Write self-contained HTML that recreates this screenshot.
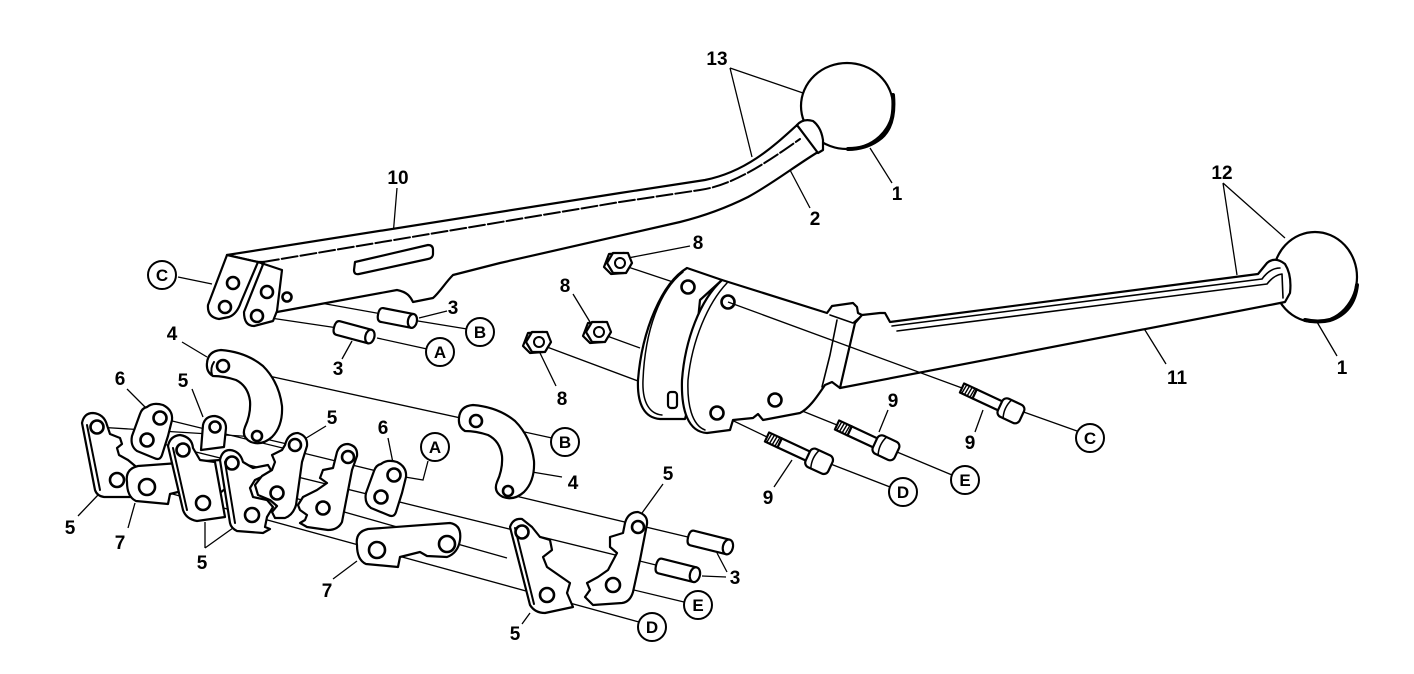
<!DOCTYPE html>
<html><head><meta charset="utf-8"><style>
html,body{margin:0;padding:0;background:#fff;}
svg{display:block;}
.o{fill:#fff;stroke:#000;stroke-width:2.2;stroke-linejoin:round;stroke-linecap:round;}
.n{fill:none;stroke:#000;stroke-width:2;stroke-linejoin:round;stroke-linecap:round;}
.f{fill:#fff;stroke:none;}
.t{fill:none;stroke:#000;stroke-width:1.3;}
.h{fill:#fff;stroke:#000;stroke-width:2.6;}
.lb{font-family:"Liberation Sans",Arial,sans-serif;font-weight:bold;font-size:19px;fill:#000;text-anchor:middle;}
.lc{font-family:"Liberation Sans",Arial,sans-serif;font-weight:bold;font-size:17px;fill:#000;text-anchor:middle;}
.c{fill:#fff;stroke:#000;stroke-width:2;}
</style></head><body>
<svg width="1414" height="674" viewBox="0 0 1414 674" xmlns="http://www.w3.org/2000/svg">
<rect width="1414" height="674" fill="#fff"/>

<!-- construction / leader lines -->
<g class="t">
<path d="M178,277 L212,284"/>
<path d="M287,297 L382,314"/>
<path d="M418,321 L467,329"/>
<path d="M257,316 L338,328"/>
<path d="M377,338 L427,349"/>
<path d="M447,311 L419,318"/>
<path d="M352,341 L342,359"/>
<path d="M397,188 L392,248"/>
<path d="M182,342 L207,357"/>
<path d="M730,68 L803,93 M730,68 L752,157"/>
<path d="M870,148 L892,183"/>
<path d="M790,170 L810,208"/>
<path d="M628,258 L690,246"/>
<path d="M573,294 L590,322"/>
<path d="M540,353 L556,386"/>
<path d="M628,267 L688,287"/>
<path d="M607,336 L640,348"/>
<path d="M547,347 L638,381"/>
<path d="M717,413 L767,437"/>
<path d="M775,400 L837,425"/>
<path d="M983,410 L975,432"/>
<path d="M1018,410 L1077,431"/>
<path d="M888,410 L879,432"/>
<path d="M897,452 L952,475"/>
<path d="M792,460 L774,487"/>
<path d="M828,463 L890,487"/>
<path d="M1140,322 L1166,364"/>
<path d="M1317,322 L1337,356"/>
<path d="M1223,183 L1285,238 M1223,183 L1237,275"/>
<!-- lower cluster -->
<path d="M223,366 L552,438"/>
<path d="M97,427 L257,437 L300,447"/>
<path d="M160,418 L393,475 L423,480 L428,461"/>
<path d="M147,440 L660,566"/>
<path d="M147,487 L639,622"/>
<path d="M277,493 L507,558"/>
<path d="M503,493 L692,538"/>
<path d="M613,585 L684,602"/>
<path d="M717,553 L727,572 M702,576 L726,577"/>
<path d="M663,484 L642,513"/>
<path d="M530,613 L522,624"/>
<path d="M333,579 L357,561"/>
<path d="M388,438 L393,463"/>
<path d="M326,426 L303,440"/>
<path d="M127,389 L145,407"/>
<path d="M192,389 L203,417"/>
<path d="M78,516 L98,495"/>
<path d="M128,528 L135,503"/>
<path d="M205,548 L205,522 M205,548 L233,528"/>
<path d="M532,472 L562,477"/>
</g>

<!-- ===== Upper lever (10) ===== -->
<ellipse class="o" cx="847" cy="106" rx="46" ry="43"/>
<path class="n" d="M893,95 Q896,128 878,140 Q865,149 848,149" style="stroke-width:4"/>
<path class="o" d="M227,255 L620,193 L705,180 C745,172 772,148 797,125 L818,152 C795,166 772,184 748,197 C722,210 700,217 680,222 L500,263 L453,275 C445,283 440,292 433,298 L413,302 C410,296 407,292 397,290 L277,312 L262,263 Z"/>
<path class="n" d="M263,262 L620,202 L700,190 C735,185 770,160 800,139" style="stroke-dasharray:16 3;"/>
<path class="o" d="M797,125 Q803,118 813,121 Q821,127 823,140 L823,150 L818,153 Z"/>
<path class="o" d="M355,262 L428,245 Q433,245 433,250 L433,254 Q433,258 428,259 L359,274 Q354,275 354,270 Z"/>
<path class="o" d="M258,262 L264,262 L244,312 Q244,326 254,326 L273,321 L277,311 L282,270 Z"/>
<path class="o" d="M227,255 L258,262 L241,302 Q237,314 229,317 L219,319 Q207,317 208,305 Z"/>
<circle class="h" cx="233" cy="283" r="6"/>
<circle class="h" cx="225" cy="307" r="6"/>
<circle class="h" cx="267" cy="292" r="6"/>
<circle class="h" cx="257" cy="316" r="6"/>
<circle class="h" cx="287" cy="297" r="4.5"/>

<!-- pins 3 upper -->
<g transform="translate(382,315) rotate(11)">
<path class="o" d="M0,-7 L31,-7 L31,7 L0,7 Q-4,7 -4,0 Q-4,-7 0,-7 Z"/>
<ellipse class="o" cx="31" cy="0" rx="4.5" ry="7"/>
</g>
<g transform="translate(338,328) rotate(15)">
<path class="o" d="M0,-7 L33,-7 L33,7 L0,7 Q-4,7 -4,0 Q-4,-7 0,-7 Z"/>
<ellipse class="o" cx="33" cy="0" rx="4.5" ry="7"/>
</g>

<!-- ===== Lower left cluster ===== -->
<path class="o" d="M207,363 Q208,351 221,350 Q246,352 263,366 Q279,382 282,406 Q283,426 272,437 Q262,446 251,442 Q241,437 245,427 Q251,414 250,401 Q248,386 236,380 Q224,376 213,376 Q206,372 207,363 Z"/>
<path class="n" d="M212,375 Q210,368 214,362" />
<circle class="h" cx="223" cy="366" r="6"/>
<circle class="h" cx="257" cy="436" r="5"/>
<path class="o" d="M203,425 Q205,416 215,416 Q226,418 226,428 L224,447 L201,450 Z"/>
<circle class="h" cx="215" cy="427" r="5.5"/>
<path class="o" d="M82,423 Q84,413 93,413 Q104,414 107,425 L110,434 L120,438 L122,444 L117,448 L119,455 L128,460 L140,470 L130,497 L104,497 Q97,496 95,490 Z"/>
<path class="n" d="M87,425 L100,490"/>
<circle class="h" cx="97" cy="427" r="6.5"/>
<circle class="h" cx="117" cy="480" r="7"/>
<path class="o" d="M147,407 Q153,402 163,405 Q173,410 172,420 L168,436 L162,455 Q160,461 154,458 L137,451 Q130,446 132,436 L140,414 Q142,408 147,407 Z"/>
<circle class="h" cx="160" cy="418" r="6.5"/>
<circle class="h" cx="147" cy="440" r="6.5"/>
<path class="o" transform="translate(-230,-63)" d="M357,545 Q355,532 368,529 L450,523 Q462,525 460,540 Q458,553 447,557 L427,556 L420,552 L400,557 L398,567 L366,564 Q357,560 357,545 Z"/>
<circle class="h" cx="147" cy="487" r="8"/>
<path class="o" d="M168,446 Q170,436 180,435 Q192,437 193,448 L200,460 L215,462 L225,517 L197,521 Q186,519 183,510 Z"/>
<path class="n" d="M173,448 L187,510"/>
<circle class="h" cx="183" cy="450" r="6.5"/>
<circle class="h" cx="203" cy="503" r="7"/>
<path class="o" d="M220,460 Q222,450 230,450 Q240,451 243,462 L253,468 L268,465 L272,472 L255,480 L250,488 L253,497 L267,500 L273,507 L267,517 L265,527 L270,529 L263,533 L237,531 Q231,528 230,523 Z"/>
<path class="n" d="M225,462 L235,523"/>
<circle class="h" cx="232" cy="463" r="6.5"/>
<circle class="h" cx="252" cy="515" r="7"/>
<path class="o" d="M285,445 Q288,433 298,433 Q308,436 307,446 L302,462 L296,505 Q293,515 285,518 L275,518 L272,512 L277,506 L270,500 L258,495 L255,485 L262,476 L272,470 L275,462 L272,455 L282,450 Z"/>
<circle class="h" cx="295" cy="445" r="6"/>
<circle class="h" cx="277" cy="493" r="6.5"/>
<path class="o" d="M337,452 Q340,444 348,444 Q358,446 357,456 L352,470 L342,522 Q338,530 328,530 L307,527 L300,523 L305,520 L307,515 L300,510 L298,505 L303,497 L317,490 L327,483 L320,478 L323,470 L333,468 L335,460 Z"/>
<circle class="h" cx="348" cy="457" r="6"/>
<circle class="h" cx="323" cy="508" r="6.5"/>
<path class="o" transform="translate(234,57)" d="M147,407 Q153,402 163,405 Q173,410 172,420 L168,436 L162,455 Q160,461 154,458 L137,451 Q130,446 132,436 L140,414 Q142,408 147,407 Z"/>
<circle class="h" cx="394" cy="475" r="6.5"/>
<circle class="h" cx="381" cy="497" r="6.5"/>
<path class="o" transform="translate(252,55)" d="M207,363 Q208,351 221,350 Q246,352 263,366 Q279,382 282,406 Q283,426 272,437 Q262,446 251,442 Q241,437 245,427 Q251,414 250,401 Q248,386 236,380 Q224,376 213,376 Q206,372 207,363 Z"/>
<circle class="h" cx="476" cy="421" r="6"/>
<circle class="h" cx="508" cy="491" r="5"/>
<path class="o" d="M357,545 Q355,532 368,529 L450,523 Q462,525 460,540 Q458,553 447,557 L427,556 L420,552 L400,557 L398,567 L366,564 Q357,560 357,545 Z"/>
<circle class="h" cx="377" cy="550" r="8"/>
<circle class="h" cx="447" cy="544" r="8"/>
<path class="o" d="M510,527 Q513,518 522,519 L532,527 L540,537 L550,540 L552,550 L543,557 L547,567 L570,583 L567,593 L573,607 L545,613 Q535,613 530,605 Z"/>
<path class="n" d="M515,528 L534,604"/>
<circle class="h" cx="522" cy="532" r="6.5"/>
<circle class="h" cx="547" cy="595" r="7"/>
<path class="o" d="M625,523 Q628,512 638,512 Q648,515 647,524 L640,560 L633,592 Q630,602 622,603 L593,605 L585,597 L590,590 L587,583 L598,577 L608,570 L617,553 L610,547 L610,537 L623,533 Z"/>
<circle class="h" cx="638" cy="527" r="6"/>
<circle class="h" cx="613" cy="585" r="7"/>
<g transform="translate(692,538) rotate(14)">
<path class="o" d="M0,-7.5 L37,-7.5 L37,7.5 L0,7.5 Q-4,7.5 -4,0 Q-4,-7.5 0,-7.5 Z"/>
<ellipse class="o" cx="37" cy="0" rx="5" ry="7.5"/>
</g>
<g transform="translate(660,566) rotate(14)">
<path class="o" d="M0,-7.5 L36,-7.5 L36,7.5 L0,7.5 Q-4,7.5 -4,0 Q-4,-7.5 0,-7.5 Z"/>
<ellipse class="o" cx="36" cy="0" rx="5" ry="7.5"/>
</g>

<!-- ===== Right lever (11) and housing ===== -->
<ellipse class="o" cx="1315" cy="277" rx="42" ry="45"/>
<path class="n" d="M1357,285 Q1354,312 1330,320 Q1318,323 1305,320" style="stroke-width:4"/>
<!-- flange 1 -->
<path class="o" d="M687,268 C662,283 642,330 638,380 C637,405 645,418 660,419 L685,419 L690,400 L700,300 L722,280 Z"/>
<path class="n" d="M683,272 C660,290 645,330 643,380 C642,403 650,414 662,415" style="stroke-width:1.5"/>
<rect class="o" x="668" y="392" width="9" height="16" rx="3"/>
<circle class="h" cx="688" cy="287" r="6.5"/>
<!-- housing body fill -->
<path class="f" d="M722,280 L827,313 L832,306 L853,303 L857,307 L858,313 L862,315 L855,323 L840,388 L832,382 L825,385 C818,395 810,408 800,413 L763,420 L758,414 L753,418 L733,420 L730,430 L707,433 C688,432 681,410 682,380 C685,340 700,300 722,280 Z"/>
<!-- housing outline (open on the lever side) -->
<path class="n" style="stroke-width:2.2" d="M862,315 L858,313 L857,307 L853,303 L832,306 L827,313 L722,280 C700,300 685,340 682,380 C681,410 688,432 707,433 L730,430 L733,420 L753,418 L758,414 L763,420 L800,413 C810,408 818,395 825,385 L832,382 L840,388"/>
<path class="n" d="M727,283 C708,303 692,340 688,380 C687,405 692,425 705,430" style="stroke-width:1.5"/>
<!-- tab front face -->
<path class="n" d="M830,315 L853,323 L860,317" style="stroke-width:1.6"/>
<path class="n" d="M837,320 L830,355 L822,387" style="stroke-width:1.6"/>
<circle class="h" cx="728" cy="302" r="6.5"/>
<circle class="h" cx="717" cy="413" r="6.5"/>
<circle class="h" cx="775" cy="400" r="6.5"/>
<!-- lever 11 -->
<path class="o" d="M855,323 L862,315 L880,313 L885,313 L890,322 L1258,274 L1267,263 Q1275,256 1285,264 Q1292,275 1290,293 L1285,302 L1275,304 L840,388 Z"/>
<path class="n" d="M892,326 L1262,279 Q1270,268 1280,268" style="stroke-width:1.6"/>
<path class="n" d="M897,331 L1267,284 Q1274,275 1282,274 L1283,298" style="stroke-width:1.6"/>
<!-- construction line across housing -->
<path class="t" d="M728,302 L962,388"/>

<!-- nuts 8 -->
<g transform="translate(618,263)">
<polygon class="o" points="8,-12 13,-3 8,8 -5,9 -12,2 -7,-11" transform="translate(-2,2)"/>
<polygon class="o" points="10,-10 14,0 8,10 -5,10 -11,0 -5,-10"/>
<circle class="n" cx="2" cy="0" r="5"/>
</g>
<g transform="translate(597,332)">
<polygon class="o" points="8,-12 13,-3 8,8 -5,9 -12,2 -7,-11" transform="translate(-2,2)"/>
<polygon class="o" points="10,-10 14,0 8,10 -5,10 -11,0 -5,-10"/>
<circle class="n" cx="2" cy="0" r="5"/>
</g>
<g transform="translate(537,342)">
<polygon class="o" points="8,-12 13,-3 8,8 -5,9 -12,2 -7,-11" transform="translate(-2,2)"/>
<polygon class="o" points="10,-10 14,0 8,10 -5,10 -11,0 -5,-10"/>
<circle class="n" cx="2" cy="0" r="5"/>
</g>

<!-- bolts 9 -->
<g transform="translate(962,388) rotate(25)">
<rect class="o" x="0" y="-5" width="14" height="10"/>
<path class="n" d="M3,-5 L2,5 M6,-5 L5,5 M9,-5 L8,5 M12,-5 L11,5" style="stroke-width:1.4"/>
<rect class="o" x="14" y="-5" width="30" height="10"/>
<rect class="o" x="42" y="-10" width="24" height="20" rx="5"/>
<path class="n" d="M50,-10 Q46,0 50,10" style="stroke-width:1.5"/>
</g>
<g transform="translate(837,425) rotate(25)">
<rect class="o" x="0" y="-5" width="14" height="10"/>
<path class="n" d="M3,-5 L2,5 M6,-5 L5,5 M9,-5 L8,5 M12,-5 L11,5" style="stroke-width:1.4"/>
<rect class="o" x="14" y="-5" width="30" height="10"/>
<rect class="o" x="42" y="-10" width="24" height="20" rx="5"/>
<path class="n" d="M50,-10 Q46,0 50,10" style="stroke-width:1.5"/>
</g>
<g transform="translate(767,437) rotate(25)">
<rect class="o" x="0" y="-5" width="14" height="10"/>
<path class="n" d="M3,-5 L2,5 M6,-5 L5,5 M9,-5 L8,5 M12,-5 L11,5" style="stroke-width:1.4"/>
<rect class="o" x="14" y="-5" width="33" height="10"/>
<rect class="o" x="45" y="-10" width="25" height="20" rx="5"/>
<path class="n" d="M53,-10 Q49,0 53,10" style="stroke-width:1.5"/>
</g>

<!-- ===== labels ===== -->
<g class="lb">
<text x="717" y="65">13</text>
<text x="398" y="184">10</text>
<text x="897" y="200">1</text>
<text x="815" y="225">2</text>
<text x="453" y="314">3</text>
<text x="338" y="375">3</text>
<text x="172" y="340">4</text>
<text x="698" y="249">8</text>
<text x="565" y="292">8</text>
<text x="562" y="405">8</text>
<text x="893" y="407">9</text>
<text x="970" y="449">9</text>
<text x="768" y="504">9</text>
<text x="1177" y="384">11</text>
<text x="1342" y="374">1</text>
<text x="1222" y="179">12</text>
<text x="120" y="385">6</text>
<text x="183" y="387">5</text>
<text x="332" y="424">5</text>
<text x="383" y="434">6</text>
<text x="573" y="489">4</text>
<text x="668" y="480">5</text>
<text x="70" y="534">5</text>
<text x="120" y="549">7</text>
<text x="202" y="569">5</text>
<text x="327" y="597">7</text>
<text x="735" y="584">3</text>
<text x="515" y="640">5</text>
</g>
<g>
<circle class="c" cx="162" cy="275" r="14"/>
<circle class="c" cx="480" cy="332" r="14"/>
<circle class="c" cx="440" cy="352" r="14"/>
<circle class="c" cx="435" cy="447" r="14"/>
<circle class="c" cx="565" cy="442" r="14"/>
<circle class="c" cx="1090" cy="438" r="14"/>
<circle class="c" cx="965" cy="480" r="14"/>
<circle class="c" cx="903" cy="492" r="14"/>
<circle class="c" cx="698" cy="605" r="14"/>
<circle class="c" cx="652" cy="627" r="14"/>
</g>
<g class="lc">
<text x="162" y="281">C</text>
<text x="480" y="338">B</text>
<text x="440" y="358">A</text>
<text x="435" y="453">A</text>
<text x="565" y="448">B</text>
<text x="1090" y="444">C</text>
<text x="965" y="486">E</text>
<text x="903" y="498">D</text>
<text x="698" y="611">E</text>
<text x="652" y="633">D</text>
</g>
</svg>
</body></html>
